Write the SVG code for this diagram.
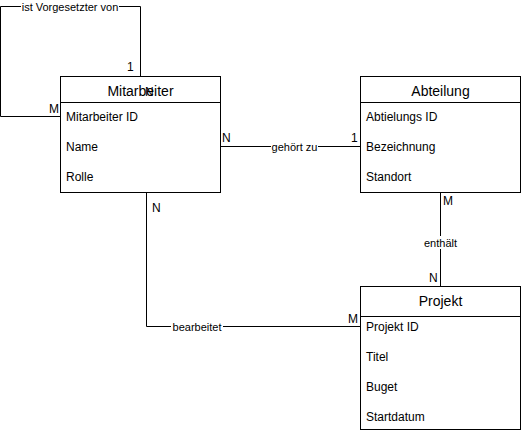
<svg xmlns="http://www.w3.org/2000/svg" width="521" height="435" viewBox="0 0 521 435">
<style>
  .box { fill: #ffffff; stroke: #000000; stroke-width: 1; }
  .sep { stroke: #000000; stroke-width: 1; fill: none; }
  .title { font-family: "Liberation Sans", Arial, sans-serif; font-size: 14px; fill: #000; text-anchor: middle; }
  .attr { font-family: "Liberation Sans", Arial, sans-serif; font-size: 12px; fill: #000; }
  .edge { stroke: #000000; stroke-width: 1; fill: none; }
  .elabel { font-family: "Liberation Sans", Arial, sans-serif; font-size: 11px; fill: #000; text-anchor: middle; }
  .lbg { fill: #ffffff; }
  .card { font-family: "Liberation Sans", Arial, sans-serif; font-size: 12px; fill: #000; }
</style>
<rect width="521" height="435" fill="#ffffff"/>
<g id="Mitarbeiter">
  <rect class="box" x="60.5" y="76.5" width="160" height="116"/>
  <line class="sep" x1="60.5" y1="102.5" x2="220.5" y2="102.5"/>
  <text class="title" x="140.5" y="95.5">Mitarbeiter</text>
  <text class="attr" x="66" y="120.5">Mitarbeiter ID</text>
  <text class="attr" x="66" y="150.5">Name</text>
  <text class="attr" x="66" y="180.5">Rolle</text>
</g>
<g id="Abteilung">
  <rect class="box" x="360.5" y="76.5" width="160" height="116"/>
  <line class="sep" x1="360.5" y1="102.5" x2="520.5" y2="102.5"/>
  <text class="title" x="440.5" y="95.5">Abteilung</text>
  <text class="attr" x="366" y="120.5">Abtielungs ID</text>
  <text class="attr" x="366" y="150.5">Bezeichnung</text>
  <text class="attr" x="366" y="180.5">Standort</text>
</g>
<g id="Projekt">
  <rect class="box" x="360.5" y="286.5" width="160" height="143"/>
  <line class="sep" x1="360.5" y1="316.5" x2="520.5" y2="316.5"/>
  <text class="title" x="440.5" y="305.5">Projekt</text>
  <text class="attr" x="366" y="330.5">Projekt ID</text>
  <text class="attr" x="366" y="360.5">Titel</text>
  <text class="attr" x="366" y="390.5">Buget</text>
  <text class="attr" x="366" y="420.5">Startdatum</text>
</g>
<g id="connectors">
  <polyline class="edge" points="140.5,76.5 140.5,6.5 0.5,6.5 0.5,116.5 60.5,116.5"/>
  <rect class="lbg" x="21" y="0" width="98" height="13"/>
  <text class="elabel" x="70" y="10.5">ist Vorgesetzter von</text>
  <text class="card" x="127" y="71">1</text>
  <text class="card" x="49" y="113">M</text>
  <text class="card" x="145" y="96">N</text>

  <line class="edge" x1="220.5" y1="146.5" x2="360.5" y2="146.5"/>
  <rect class="lbg" x="271" y="140" width="47" height="13"/>
  <text class="elabel" x="294.5" y="150.5">gehört zu</text>
  <text class="card" x="222" y="142">N</text>
  <text class="card" x="351" y="142">1</text>

  <line class="edge" x1="440.5" y1="192.5" x2="440.5" y2="286.5"/>
  <rect class="lbg" x="422" y="236" width="37" height="13"/>
  <text class="elabel" x="440.5" y="246.5">enthält</text>
  <text class="card" x="443" y="205">M</text>
  <text class="card" x="429" y="282">N</text>

  <polyline class="edge" points="146.5,192.5 146.5,326.5 360.5,326.5"/>
  <rect class="lbg" x="171" y="320" width="52" height="13"/>
  <text class="elabel" x="197" y="330.5">bearbeitet</text>
  <text class="card" x="152" y="212">N</text>
  <text class="card" x="348" y="323">M</text>
</g>
</svg>
